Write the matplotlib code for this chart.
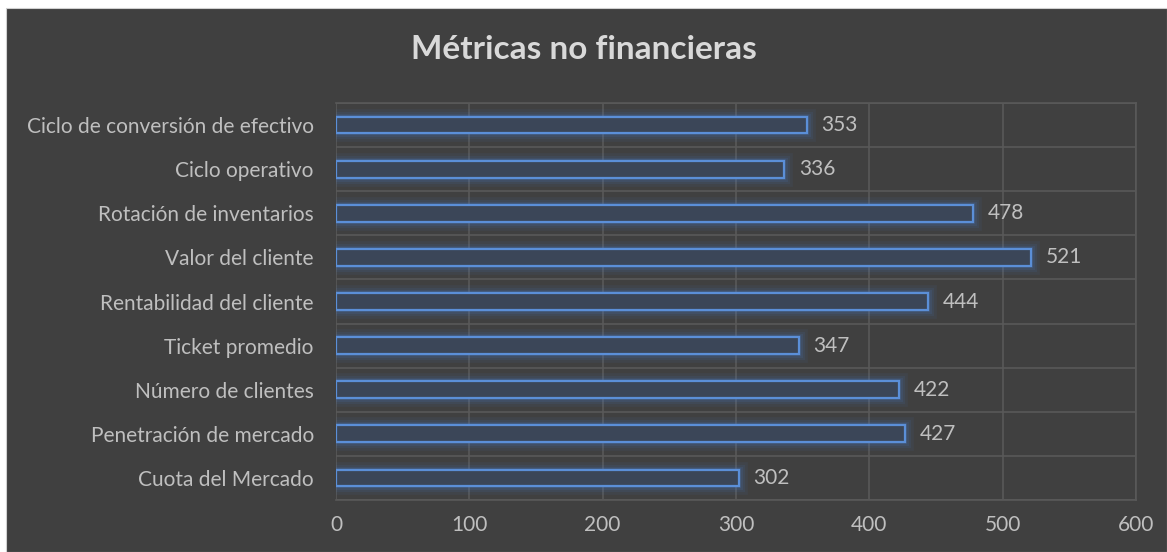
import numpy as np
import matplotlib.pyplot as plt
from matplotlib.patches import Rectangle

categorias = ["Cuota del Mercado", "Penetración de mercado", "Número de clientes",
              "Ticket promedio", "Rentabilidad del cliente", "Valor del cliente",
              "Rotación de inventarios", "Ciclo operativo",
              "Ciclo de conversión de efectivo"]
valores = [302, 427, 422, 347, 444, 521, 478, 336, 353]
ticks_x = [0, 100, 200, 300, 400, 500, 600]

plt.rcParams['font.family'] = ['Lato', 'DejaVu Sans']

fig = plt.figure(figsize=(11.67, 5.52), dpi=100, facecolor='white')
# fondo gris del grafico (borde blanco arriba/izquierda)
fig.patches.append(Rectangle((6/1167, 0), 1 - 6/1167, 1 - 8/552,
                             transform=fig.transFigure, facecolor='#404040',
                             edgecolor='#d0d0d0', linewidth=0.8, zorder=-10))

ax = fig.add_axes([336/1167, 52/552, 800/1167, 397/552])
ax.set_facecolor('none')
ax.set_zorder(2)

y = np.arange(len(categorias))
alto = 0.38

# brillo alrededor de las barras
for lw, a in [(12, 0.07), (8, 0.09), (5, 0.12), (3, 0.18)]:
    ax.barh(y, valores, height=alto, color='none', edgecolor='#4a7fd0',
            linewidth=lw, alpha=a, zorder=2)
ax.barh(y, valores, height=alto, color='#3b4658', edgecolor='#5b8fd8',
        linewidth=1.6, zorder=3)

for yi, v in zip(y, valores):
    ax.text(v + 11, yi, str(v), va='center', ha='left', color='#bfbfbf',
            fontsize=15, zorder=4)

ax.set_xlim(0, 600)
ax.set_ylim(-0.5, len(categorias) - 0.5)
ax.set_xticks(ticks_x)
ax.set_xticklabels([str(t) for t in ticks_x])
ax.set_yticks(y)
ax.set_yticklabels(categorias)
ax.set_yticks(np.arange(-0.5, len(categorias), 1), minor=True)

ax.grid(axis='x', which='major', color='#595959', linewidth=1.2, zorder=1)
ax.grid(axis='y', which='minor', color='#595959', linewidth=1.2, zorder=1)
ax.grid(axis='y', which='major', visible=False)
for s in ax.spines.values():
    s.set_color('#595959')
    s.set_linewidth(1.2)
ax.spines['left'].set_visible(False)

ax.tick_params(axis='both', which='both', length=0, colors='#bfbfbf',
               labelsize=15)
ax.tick_params(axis='y', pad=16)
ax.tick_params(axis='x', pad=11)

fig.text(0.5, 0.91, "Métricas no financieras", ha='center', va='center',
         color='#d9d9d9', fontsize=24, fontweight='bold')

fig.savefig('out.png', dpi=100, facecolor=fig.get_facecolor())
